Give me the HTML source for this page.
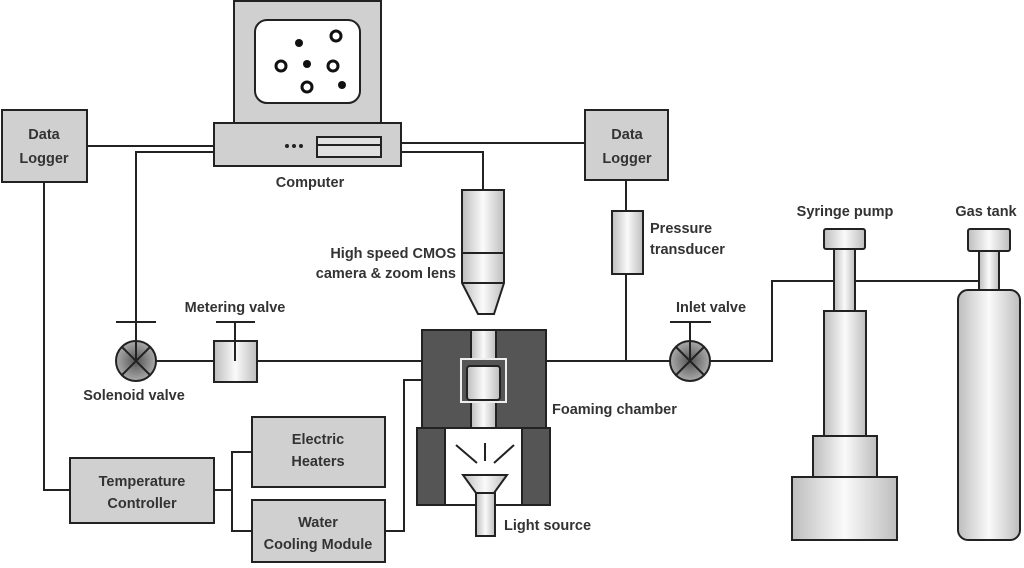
<!DOCTYPE html>
<html><head><meta charset="utf-8"><style>
html,body{margin:0;padding:0;background:#fff;width:1024px;height:568px;overflow:hidden}
text{font-family:"Liberation Sans",Arial,sans-serif;font-size:14.5px;font-weight:bold;fill:#333}
</style></head><body>
<svg width="1024" height="568" viewBox="0 0 1024 568" xmlns="http://www.w3.org/2000/svg">
<defs>
<linearGradient id="g" x1="0" x2="1" y1="0" y2="0">
<stop offset="0" stop-color="#bdbdbd"/><stop offset="0.5" stop-color="#fafafa"/><stop offset="1" stop-color="#bdbdbd"/></linearGradient>
<radialGradient id="v"><stop offset="0" stop-color="#555"/><stop offset="1" stop-color="#aaa"/></radialGradient>
</defs>
<g stroke="#222" stroke-width="2" fill="none">
<path d="M87 146H214M136 322V152H214M401 143H585M401 152H483V190"/>
<path d="M626 180V211M626 274V361M546 361H772V281H834M855 281H979"/>
<path d="M156 361H422M44 182V490H70M214 490H232V452H252M232 490V531H252M385 531H404V380H422"/>
</g>
<rect x="234" y="1" width="147" height="122" fill="#d0d0d0" stroke="#222" stroke-width="2"/>
<rect x="255" y="20" width="105" height="83" rx="12" fill="#fff" stroke="#222" stroke-width="2"/>
<g fill="#111"><circle cx="299" cy="43" r="4"/><circle cx="307" cy="64" r="4"/><circle cx="342" cy="85" r="4"/></g>
<g fill="none" stroke="#111" stroke-width="3"><circle cx="336" cy="36" r="5"/><circle cx="281" cy="66" r="5"/><circle cx="333" cy="66" r="5"/><circle cx="307" cy="87" r="5"/></g>
<rect x="214" y="123" width="187" height="43" fill="#d0d0d0" stroke="#222" stroke-width="2"/>
<g fill="#222"><circle cx="287" cy="146" r="2"/><circle cx="294" cy="146" r="2"/><circle cx="301" cy="146" r="2"/></g>
<rect x="317" y="137" width="64" height="20" fill="#e0e0e0" stroke="#222" stroke-width="2"/><line x1="317" y1="145" x2="381" y2="145" stroke="#222" stroke-width="2"/>
<text x="310" y="187" text-anchor="middle">Computer</text>
<rect x="2" y="110" width="85" height="72" fill="#d0d0d0" stroke="#222" stroke-width="2"/>
<text x="44" y="139" text-anchor="middle">Data</text><text x="44" y="163" text-anchor="middle">Logger</text>
<rect x="585" y="110" width="83" height="70" fill="#d0d0d0" stroke="#222" stroke-width="2"/>
<text x="627" y="139" text-anchor="middle">Data</text><text x="627" y="163" text-anchor="middle">Logger</text>
<path d="M462 190H504V283L494 314H478L462 283Z" fill="url(#g)" stroke="#222" stroke-width="2"/>
<path d="M462 253H504M462 283H504" stroke="#222" stroke-width="2"/>
<text x="456" y="258" text-anchor="end">High speed CMOS</text>
<text x="456" y="278" text-anchor="end">camera &amp; zoom lens</text>
<rect x="612" y="211" width="31" height="63" fill="url(#g)" stroke="#222" stroke-width="2"/>
<text x="650" y="233">Pressure</text><text x="650" y="254">transducer</text>
<g stroke="#222" stroke-width="2">
<circle cx="136" cy="361" r="20" fill="url(#v)"/><path d="M122 347L150 375M150 347L122 375M116 322H156M136 322V361" fill="none"/>
<circle cx="690" cy="361" r="20" fill="url(#v)"/><path d="M676 347L704 375M704 347L676 375M670 322H711M690 322V361" fill="none"/>
<rect x="214" y="341" width="43" height="41" fill="url(#g)"/><path d="M216 322H255M235 322V361" fill="none"/>
</g>
<text x="235" y="312" text-anchor="middle">Metering valve</text>
<text x="134" y="400" text-anchor="middle">Solenoid valve</text>
<text x="711" y="312" text-anchor="middle">Inlet valve</text>
<g stroke="#222" stroke-width="2">
<rect x="422" y="330" width="124" height="98" fill="#555"/>
<rect x="471" y="330" width="25" height="98" fill="url(#g)"/>
<rect x="461" y="359" width="45" height="43" fill="#555" stroke="#eee"/>
<rect x="467" y="366" width="33" height="34" rx="3" fill="url(#g)"/>
<rect x="417" y="428" width="133" height="77" fill="#fff"/>
<rect x="417" y="428" width="28" height="77" fill="#555"/>
<rect x="522" y="428" width="28" height="77" fill="#555"/>
<path d="M463 475H507L494 493H476Z" fill="url(#g)"/>
<rect x="476" y="493" width="19" height="43" fill="url(#g)"/>
<path d="M456 445L477 463M485 443V461M514 445L494 463" fill="none"/>
</g>
<text x="552" y="414">Foaming chamber</text>
<text x="504" y="530">Light source</text>
<rect x="70" y="458" width="144" height="65" fill="#d0d0d0" stroke="#222" stroke-width="2"/>
<text x="142" y="486" text-anchor="middle">Temperature</text><text x="142" y="508" text-anchor="middle">Controller</text>
<rect x="252" y="417" width="133" height="70" fill="#d0d0d0" stroke="#222" stroke-width="2"/>
<text x="318" y="444" text-anchor="middle">Electric</text><text x="318" y="466" text-anchor="middle">Heaters</text>
<rect x="252" y="500" width="133" height="62" fill="#d0d0d0" stroke="#222" stroke-width="2"/>
<text x="318" y="527" text-anchor="middle">Water</text><text x="318" y="549" text-anchor="middle">Cooling Module</text>
<g stroke="#222" stroke-width="2" fill="url(#g)">
<rect x="824" y="229" width="41" height="20" rx="2"/>
<rect x="834" y="249" width="21" height="62"/>
<rect x="824" y="311" width="42" height="125"/>
<rect x="813" y="436" width="64" height="41"/>
<rect x="792" y="477" width="105" height="63"/>
<rect x="968" y="229" width="42" height="22" rx="2"/>
<rect x="979" y="251" width="20" height="40"/>
<rect x="958" y="290" width="62" height="250" rx="10"/>
</g>
<text x="845" y="216" text-anchor="middle">Syringe pump</text>
<text x="986" y="216" text-anchor="middle">Gas tank</text>
</svg>
</body></html>
